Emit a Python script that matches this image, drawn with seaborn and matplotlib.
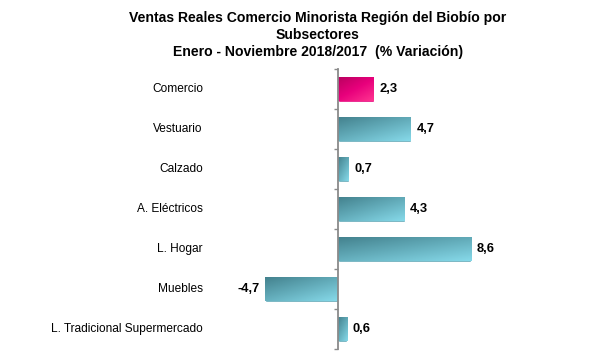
import numpy as np
import pandas as pd
import matplotlib
matplotlib.use("Agg")
import matplotlib.pyplot as plt
import seaborn as sns
from matplotlib.colors import LinearSegmentedColormap

categories = ["Comercio", "Vestuario", "Calzado", "A. Eléctricos", "L. Hogar",
              "Muebles", "L. Tradicional Supermercado"]
values = [2.3, 4.7, 0.7, 4.3, 8.6, -4.7, 0.6]
title = ("Ventas Reales Comercio Minorista Región del Biobío por\nSubsectores\n"
         "Enero - Noviembre 2018/2017  (% Variación)")

sns.set_theme(style="white")
plt.rcParams["font.family"] = ["Liberation Sans", "DejaVu Sans"]

W, H = 603, 357
fig = plt.figure(figsize=(W / 100, H / 100), dpi=100)
ax_left, ax_right, ax_top, ax_bot = 214, 555, 69, 349
ax = fig.add_axes([ax_left / W, (H - ax_bot) / H, (ax_right - ax_left) / W, (ax_bot - ax_top) / H])

df = pd.DataFrame({"cat": categories, "val": values})
teal_mid = "#5fa9b8"
pink_mid = "#e6007a"
palette = {c: (pink_mid if c == "Comercio" else teal_mid) for c in categories}
sns.barplot(data=df, y="cat", x="val", hue="cat", palette=palette, orient="h",
            width=0.625, ax=ax, legend=False, saturation=1)

cmaps = {
    pink_mid: LinearSegmentedColormap.from_list("p", ["#b8005e", "#e8007c", "#ff3490"]),
    teal_mid: LinearSegmentedColormap.from_list("t", ["#42808c", "#63acba", "#86d9e9"]),
}

xlim = (-8, 14)
n = len(categories)
ylim = (n - 0.5, -0.5)

gy, gx = np.mgrid[0:1:30j, 0:1:80j]
grad = 0.45 * gx + 0.55 * gy

for patch in ax.patches:
    bb = patch.get_bbox()
    x0, x1 = sorted([bb.x0, bb.x1])
    y0, y1 = sorted([bb.y0, bb.y1])
    key = pink_mid if patch.get_facecolor()[0] > 0.7 else teal_mid
    im = ax.imshow(grad, cmap=cmaps[key], extent=(x0, x1, y1, y0), origin="upper",
                   aspect="auto", interpolation="bilinear", zorder=patch.get_zorder() + 0.1)
    im.set_clip_path(patch)

for cont in ax.containers:
    labs = [f"{v:.1f}".replace(".", ",") for v in cont.datavalues]
    ax.bar_label(cont, labels=labs, padding=4, fontsize=9.3, fontweight="bold",
                 color="#000000", zorder=5)

ax.set_xlim(*xlim)
ax.set_ylim(*ylim)

for side in ["top", "right", "bottom"]:
    ax.spines[side].set_visible(False)
ax.spines["left"].set_position(("data", 0))
ax.spines["left"].set_color("#8a8a8a")
ax.spines["left"].set_linewidth(1.3)
ax.spines["left"].set_zorder(6)

ax.set_xticks([])
ax.set_yticks(np.arange(-0.5, n, 1.0))
ax.set_yticklabels([])
ax.tick_params(axis="y", which="major", length=3, width=1.0, color="#8a8a8a",
               direction="out", left=True)
ax.set_xlabel("")
ax.set_ylabel("")

for i, c in enumerate(categories):
    ax.annotate(c, xy=(0, i), xycoords=("axes fraction", "data"), xytext=(-8, 0),
                textcoords="offset points", ha="right", va="center", fontsize=8.6,
                color="#000000")

fig.text(318 / W, 1 - 11 / H, title, ha="center", va="top", fontsize=10.1,
         fontweight="bold", linespacing=1.28, color="#000000")

fig.savefig("out.png", dpi=100, facecolor="white")
